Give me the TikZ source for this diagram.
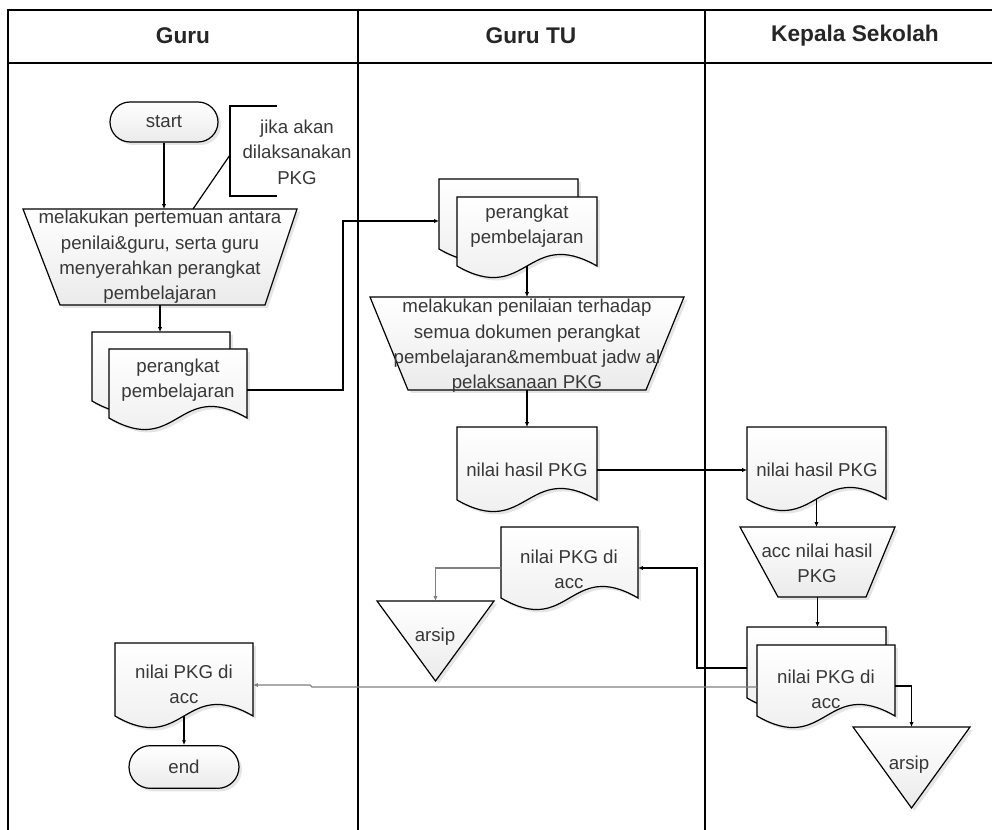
\documentclass[tikz,border=0pt]{standalone}
\usepackage{fontspec}
\setmainfont{Liberation Sans}
\usetikzlibrary{arrows.meta,calc,shadows}

\tikzset{
  px/.style={x=0.75pt,y=-0.75pt},
  lane/.style={line width=1.2pt, black},
  fig/.style={draw=black, line width=0.9pt, top color=white, bottom color=black!8,
    drop shadow={fill=black!40, opacity=0.25, shadow xshift=2.2pt, shadow yshift=-2.2pt}},
  box/.style={draw=none, inner sep=0pt, outer sep=0pt},
  lbl/.style={text=black!78, font=\fontsize{14}{19}\selectfont, align=center, inner sep=0pt},
  hdr/.style={text=black!85, font=\fontsize{17}{20}\selectfont\bfseries, inner sep=0pt},
  flow/.style={draw=black, line width=0.9pt, -{Latex[length=3.6pt,width=3.2pt]}},
  flowg/.style={draw=black!50, line width=0.9pt, -{Latex[length=3.6pt,width=3.2pt]}},
  plain/.style={draw=black, line width=0.9pt},
  term/.style={fig, rounded corners=15pt, minimum width=81pt, minimum height=30pt, lbl}
}

% document symbol: x0, y0, x1, y (bottom edge at both sides)
\newcommand\docshape[4]{%
  \path[fig] (#1,#2) -- (#3,#2) -- (#3,#4)
    .. controls ({(#1+#3)/2},{#4-40}) and ({(#1+#3)/2},{#4+40}) .. (#1,#4) -- cycle;}
% invisible box carrying the anchors of a symbol: name, x0, y0, x1, y1
\newcommand\anchorbox[5]{%
  \node[box, minimum width={(#4-#2)*0.75pt}, minimum height={(#5-#3)*0.75pt}]
    (#1) at ({(#2+#4)/2},{(#3+#5)/2}) {};}
% manual operation: name, top x0, top x1, top y, bottom x0, bottom x1, bottom y
\newcommand\manualop[7]{%
  \path[fig] (#2,#4) -- (#3,#4) -- (#6,#7) -- (#5,#7) -- cycle;
  \anchorbox{#1}{#2}{#4}{#3}{#7}}
% merge (storage) triangle: name, x0, x1, top y, apex y
\newcommand\merge[5]{%
  \path[fig] (#2,#4) -- (#3,#4) -- ({(#2+#3)/2},#5) -- cycle;
  \anchorbox{#1}{#2}{#4}{#3}{#5}}

\begin{document}
\begin{tikzpicture}[px]
\useasboundingbox (0,0) rectangle (992,830);

% ---- swimlanes ----
\draw[lane] (992,10) -- (8,10) -- (8,830);
\draw[lane] (8,63) -- (992,63);
\draw[lane] (358,10) -- (358,830);
\draw[lane] (705,10) -- (705,830);
\node[hdr] (h1) at (183,36) {Guru};
\node[hdr] (h2) at (531,36) {Guru TU};
\node[hdr] (h3) at (855,36) {Kepala Sekolah};

% ---- lane: Guru ----
\node[term] (start) at (164,122) {start};

\draw[plain] (277,106) -- (230,106) -- (230,196) -- (277,196);
\node[lbl] (note) at (297,152) {jika akan\\dilaksanakan\\PKG};
\coordinate (nb) at (230,155);

\manualop{meet}{23}{297}{209}{60}{265}{305}
\node[lbl] (meet-t) at (160,257) {melakukan pertemuan antara\\penilai\&guru, serta guru\\menyerahkan perangkat\\pembelajaran};

\docshape{92}{332}{230}{401}
\anchorbox{pk1-b}{92}{332}{230}{401}
\docshape{109}{349}{247}{418}
\anchorbox{pk1}{109}{349}{247}{418}
\node[lbl] (pk1-t) at (178,380) {perangkat\\pembelajaran};

\docshape{115}{643}{253}{716}
\anchorbox{dend}{115}{643}{253}{716}
\node[lbl] (dend-t) at (184,684) {nilai PKG di\\acc};

\node[term, minimum width=82.5pt, minimum height=32pt, rounded corners=16pt] (stop) at (184,767) {end};

% ---- lane: Guru TU ----
\docshape{439}{179}{578}{249}
\anchorbox{pk2-b}{439}{179}{578}{249}
\docshape{457}{197}{597}{266}
\anchorbox{pk2}{457}{197}{597}{266}
\node[lbl] (pk2-t) at (527,226) {perangkat\\pembelajaran};

\manualop{assess}{370}{684}{297}{408}{646}{390}
\node[lbl] (assess-t) at (527,346) {melakukan penilaian terhadap\\semua dokumen perangkat\\pembelajaran\&membuat jadw al\\pelaksanaan PKG};

\docshape{457}{427}{597}{500}
\anchorbox{nh2}{457}{427}{597}{500}
\node[lbl] (nh2-t) at (527,470) {nilai hasil PKG};

\docshape{501}{527}{638}{598}
\anchorbox{acc2}{501}{527}{638}{598}
\node[lbl] (acc2-t) at (569,569) {nilai PKG di\\acc};

\merge{arsip1}{377}{494}{601}{681}
\node[lbl] (arsip1-t) at (435,637) {arsip};

% ---- lane: Kepala Sekolah ----
\docshape{747}{427}{886}{499}
\anchorbox{nh3}{747}{427}{886}{499}
\node[lbl] (nh3-t) at (817,470) {nilai hasil PKG};

\manualop{acc3}{740}{895}{527}{778}{866}{597}
\node[lbl] (acc3-t) at (817,563) {acc nilai hasil\\PKG};

\docshape{747}{627}{886}{698}
\anchorbox{pk3-b}{747}{627}{886}{698}
\docshape{757}{645}{895}{716}
\anchorbox{pk3}{757}{645}{895}{716}
\node[lbl] (pk3-t) at (826,689) {nilai PKG di\\acc};

\merge{arsip2}{853}{970}{727}{808}
\node[lbl] (arsip2-t) at (909,765) {arsip};

% ---- route points ----
\coordinate (nt) at (193,209);
\coordinate (j1a) at (343,390);
\coordinate (j1b) at (343,221);
\coordinate (j2) at (697,668);
\coordinate (j3) at (697,568);
\coordinate (j4) at (312,687);
\coordinate (j5) at (310,685);
\coordinate (j6) at (435.5,568);
\coordinate (j7) at (911.5,686);

% ---- connectors ----
\draw[flow] (start.south) -- (start.south |- meet.north);
\draw[plain] (nb) -- (nt);
\draw[flow] (meet.south) -- (meet.south |- pk1-b.north);
\draw[flow] (pk1.east |- j1a) -- (j1a) -- (j1b) -- (j1b -| pk2-b.west);
\draw[flow] (pk2.south) -- (assess.north);
\draw[flow] (assess.south) -- (nh2.north);
\draw[flow] (nh2.east |- nh2-t) -- (nh3.west |- nh2-t);
\draw[flow] (nh3.south) -- (nh3.south |- acc3.north);
\draw[flow] (acc3.south) -- (acc3.south |- pk3-b.north);
\draw[flow] (j2 -| pk3-b.west) -- (j2) -- (j3) -- (j3 -| acc2.east);
\draw[flowg] (acc2.west |- j6) -- (j6) -- (arsip1.north);
\draw[flow] (pk3.east |- j7) -- (j7) -- (arsip2.north);
\draw[flowg] (j4 -| pk3.west) -- (j4) -- (j5) -- (j5 -| dend.east);
\draw[flow] (dend.south) -- (stop.north);
\end{tikzpicture}
\end{document}
